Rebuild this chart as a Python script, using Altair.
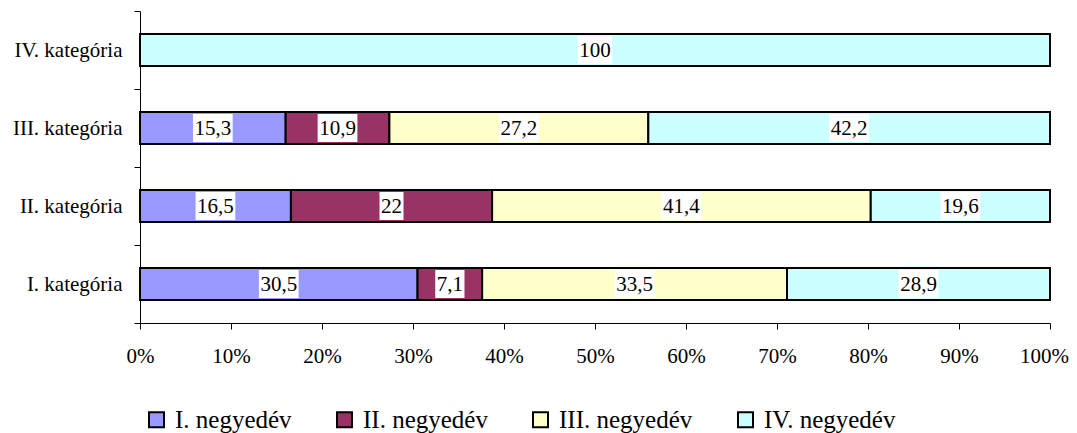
import altair as alt
import pandas as pd

categories = ["I. kategória", "II. kategória", "III. kategória", "IV. kategória"]
quarters = ["I. negyedév", "II. negyedév", "III. negyedév", "IV. negyedév"]
q1 = [30.5, 16.5, 15.3, None]
q2 = [7.1, 22, 10.9, None]
q3 = [33.5, 41.4, 27.2, None]
q4 = [28.9, 19.6, 42.2, 100]
colors = ["#9999FF", "#993366", "#FFFFCC", "#CCFFFF"]

rows = []
for qi, (q, series) in enumerate(zip(quarters, [q1, q2, q3, q4])):
    for c, v in zip(categories, series):
        if v is not None:
            rows.append({"cat": c, "q": q, "qi": qi, "v": v})
df = pd.DataFrame(rows)

FONT = "Liberation Serif, Times New Roman, serif"
FS = 21
cat_order = list(reversed(categories))

base = alt.Chart(df).transform_stack(
    stack="v", groupby=["cat"], as_=["x0", "x1"], offset="normalize",
    sort=[alt.SortField("qi", order="ascending")]
).transform_calculate(
    mid="(datum.x0 + datum.x1) / 2",
    lab="replace(toString(datum.v), '.', ',')",
).transform_calculate(
    w="length(datum.lab) * 10.5 - (indexof(datum.lab, ',') >= 0 ? 5.25 : 0) + 3"
).transform_calculate(
    path="'M' + (-datum.w/100) + ',-0.28L' + (datum.w/100) + ',-0.28L' + (datum.w/100) + ',0.28L' + (-datum.w/100) + ',0.28Z'"
)

y_enc = alt.Y("cat:N", sort=cat_order, title=None,
              scale=alt.Scale(paddingInner=0, paddingOuter=0),
              axis=alt.Axis(tickBand="extent", labelFont=FONT, labelFontSize=FS,
                            labelColor="black", domainColor="black", tickColor="black",
                            tickSize=6, labelPadding=12, grid=False))

bars = base.mark_bar(height=32, stroke="black", strokeWidth=2).encode(
    y=y_enc,
    x=alt.X("x0:Q", title=None, scale=alt.Scale(domain=[0, 1], nice=False),
            axis=alt.Axis(values=[i / 10 for i in range(11)], format="%",
                          labelFont=FONT, labelFontSize=FS, labelColor="black",
                          labelFlush=False, labelOverlap=False,
                          labelOffset=alt.ExprRef("datum.value >= 1 ? -6 : 0"),
                          domainColor="black", tickColor="black", tickSize=6,
                          labelPadding=16, grid=False)),
    x2="x1:Q",
    color=alt.Color("q:N", scale=alt.Scale(domain=quarters, range=colors),
                    legend=alt.Legend(title=None, orient="none", legendX=4, legendY=396,
                                      direction="horizontal", columns=4,
                                      symbolType="square", symbolSize=225,
                                      symbolStrokeColor="black", symbolStrokeWidth=2,
                                      symbolOpacity=1,
                                      labelFont=FONT, labelFontSize=25, labelColor="black",
                                      labelOffset=6, columnPadding=40)),
    order=alt.Order("qi:Q"),
)

boxes = base.mark_point(filled=True, color="white", opacity=1, size=10000, strokeWidth=0).encode(
    y=alt.Y("cat:N", sort=cat_order),
    x=alt.X("mid:Q"),
    shape=alt.Shape("path:N", scale=None),
)

texts = base.mark_text(font=FONT, fontSize=FS, color="black", baseline="middle", dy=1).encode(
    y=alt.Y("cat:N", sort=cat_order),
    x=alt.X("mid:Q"),
    text="lab:N",
)

chart = alt.layer(bars, boxes, texts).properties(
    width=910, height=312,
    autosize=alt.AutoSizeParams(type="none"),
    padding={"left": 132, "top": 3, "right": 19, "bottom": 110},
).configure_view(stroke=None)

chart.save("out.html", embed_options={"renderer": "svg", "actions": False})
